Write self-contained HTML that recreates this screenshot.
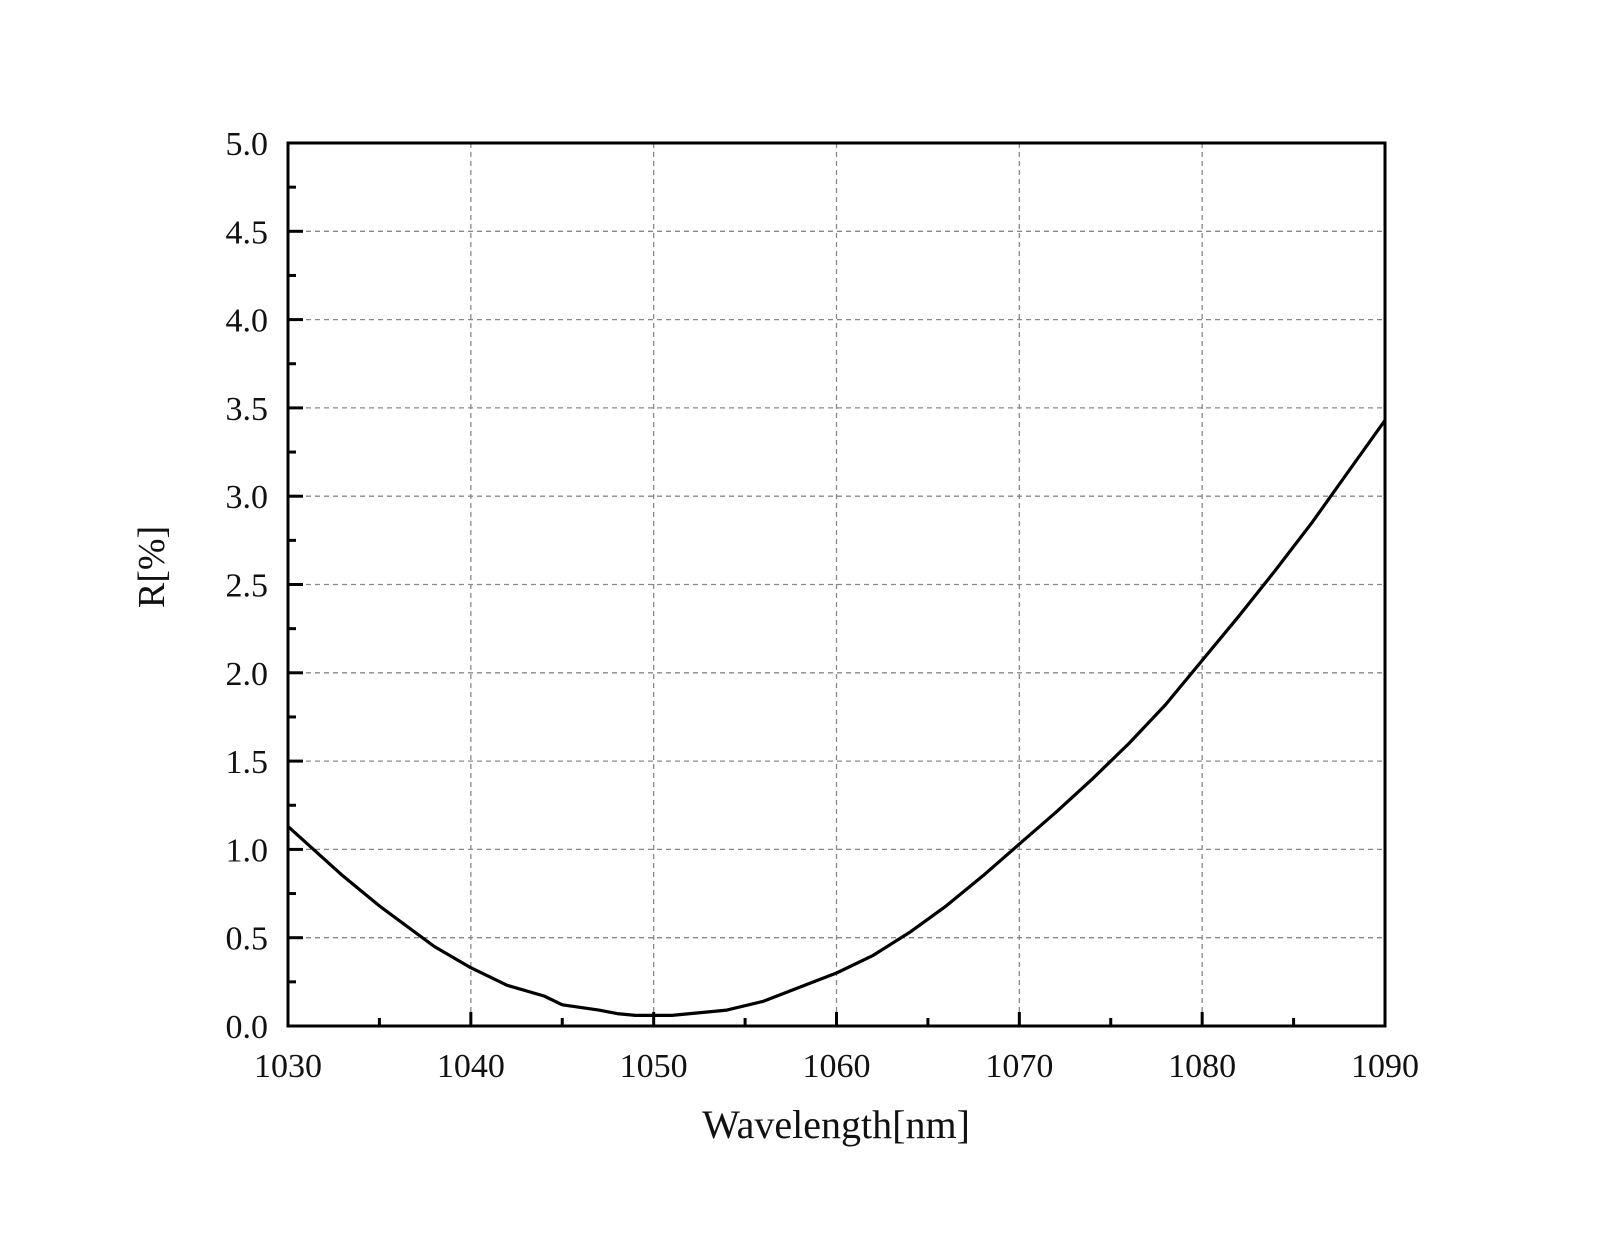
<!DOCTYPE html>
<html><head><meta charset="utf-8"><style>
html,body{margin:0;padding:0;background:#fff;}
svg text{font-family:"Liberation Serif","Noto Serif CJK SC",serif;fill:#111;}
</style></head><body>
<svg id="chart" width="1608" height="1231" viewBox="0 0 1608 1231" xmlns="http://www.w3.org/2000/svg">
<rect width="1608" height="1231" fill="#fff"/>
<g id="grid"></g>
<g id="ticks"></g>
<g id="labels"></g>
<path id="curve" fill="none" stroke="#000" stroke-width="3.2" stroke-linejoin="round"/>
<rect x="288" y="143" width="1097" height="883" fill="none" stroke="#000" stroke-width="3"/>
<text x="836" y="1138" font-size="40" text-anchor="middle">Wavelength[nm]</text>
<text transform="translate(164,567) rotate(-90)" font-size="38" text-anchor="middle">R[%]</text>
</svg>
<script>
const wavelengths=[1030,1033,1035,1038,1040,1042,1044,1045,1047,1048,1049,1050,1051,1052,1054,1056,1058,1060,1062,1064,1066,1068,1070,1072,1074,1076,1078,1080,1082,1084,1086,1088,1090];
const reflectance=[1.13,0.85,0.68,0.45,0.33,0.23,0.17,0.12,0.09,0.07,0.06,0.06,0.06,0.07,0.09,0.14,0.22,0.30,0.40,0.53,0.68,0.85,1.03,1.21,1.40,1.60,1.82,2.07,2.32,2.58,2.85,3.14,3.43];
const xTicks=[1030,1040,1050,1060,1070,1080,1090];
const yTicks=[0,0.5,1,1.5,2,2.5,3,3.5,4,4.5,5];
const yTickLabels=["0.0","0.5","1.0","1.5","2.0","2.5","3.0","3.5","4.0","4.5","5.0"];
const L=288,R=1385,T=143,B=1026;
const X=v=>L+(v-1030)/60*(R-L);
const Y=v=>B-v/5*(B-T);
const NS="http://www.w3.org/2000/svg";
function mk(tag,attrs,parent){const e=document.createElementNS(NS,tag);for(const k in attrs)e.setAttribute(k,attrs[k]);parent.appendChild(e);return e;}
const g=document.getElementById('grid'),tk=document.getElementById('ticks'),lb=document.getElementById('labels');
xTicks.forEach((v,i)=>{
  const x=X(v);
  if(i>0&&i<xTicks.length-1){const l=mk('line',{x1:x,x2:x,y1:T,y2:B,stroke:'#888','stroke-width':1.3,'stroke-dasharray':'5,4'},g);
  
  }
  const t=mk('line',{x1:x,x2:x,y1:B,y2:B-14,stroke:'#000','stroke-width':3},tk);
  
  
  if(i<xTicks.length-1){const m=mk('line',{x1:X(v+5),x2:X(v+5),y1:B,y2:B-8,stroke:'#000','stroke-width':3},tk);
  
  }
  const s=mk('text',{x:x,y:1077,'font-size':34,'text-anchor':'middle'},lb);s.textContent=v;
  
  
});
yTicks.forEach((v,i)=>{
  const y=Y(v);
  if(i>0&&i<yTicks.length-1){const l=mk('line',{x1:L,x2:R,y1:y,y2:y,stroke:'#888','stroke-width':1.3,'stroke-dasharray':'5,4'},g);
  
  }
  const t=mk('line',{x1:L,x2:L+15,y1:y,y2:y,stroke:'#000','stroke-width':3},tk);
  
  
  if(i<yTicks.length-1){const m=mk('line',{x1:L,x2:L+8,y1:Y(v+0.25),y2:Y(v+0.25),stroke:'#000','stroke-width':3},tk);
  
  }
  const s=mk('text',{x:268,y:y+12,'font-size':34,'text-anchor':'end'},lb);s.textContent=yTickLabels[i];
  
  
});
document.getElementById('curve').setAttribute('d',wavelengths.map((w,i)=>(i?'L':'M')+X(w).toFixed(1)+','+Y(reflectance[i]).toFixed(1)).join(' '));
</script>
</body></html>
